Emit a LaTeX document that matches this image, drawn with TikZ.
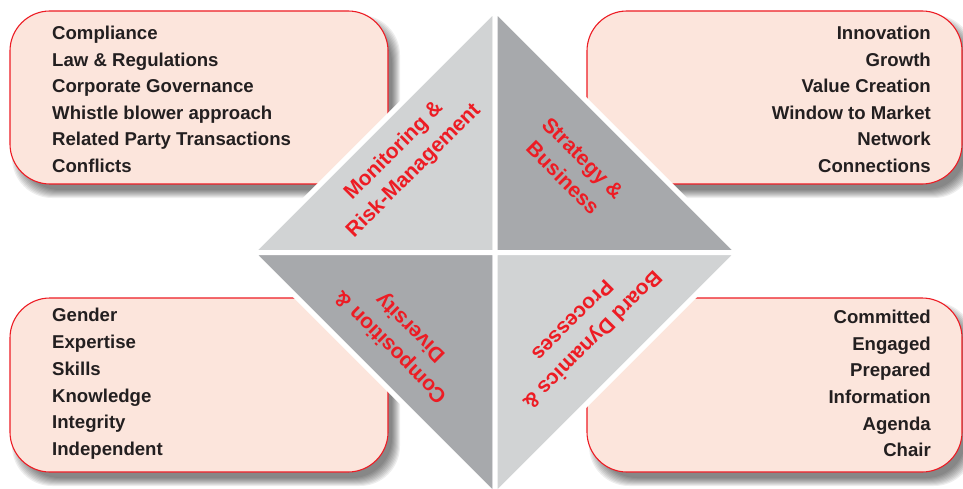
\documentclass[tikz,border=0pt]{standalone}
\usepackage{fontspec}
\setmainfont{Liberation Sans}
\definecolor{boxfill}{HTML}{FCE5DC}
\definecolor{boxred}{HTML}{ED1C24}
\definecolor{trilight}{HTML}{D1D3D4}
\definecolor{tridark}{HTML}{A7A9AC}
\definecolor{txt}{HTML}{231F20}
\tikzset{
  panel/.style={fill=boxfill, draw=boxred, line width=1.1pt, rounded corners=40pt},
  shadowlayer/.style={fill=black, opacity=0.065, rounded corners=40pt},
  item/.style={font=\bfseries\fontsize{18.6}{22}\selectfont, text=txt, inner sep=0pt},
  tritext/.style={font=\bfseries\fontsize{21}{28}\selectfont, text=boxred, align=center, inner sep=0pt},
  tri/.style={draw=white, line width=5pt, line join=round},
}
\newcommand\panelshadow[4]{%
  \foreach \k in {0,...,8}{%
    \fill[shadowlayer] ({#1+7-5+\k},{#2+9-5+\k}) rectangle ({#3+7+5-\k},{#4+9+5-\k});
  }%
}
\begin{document}
\begin{tikzpicture}[x=1pt,y=-1pt]
\useasboundingbox (0,0) rectangle (963,489);
\fill[white] (0,0) rectangle (963,489);
% shadows
\panelshadow{10}{11}{388}{184}
\panelshadow{587}{11}{962}{184}
\panelshadow{10}{298}{388}{472}
\panelshadow{587}{298}{962}{472}
% panels
\draw[panel] (10,11) rectangle (388,184);
\draw[panel] (587,11) rectangle (962,184);
\draw[panel] (10,298) rectangle (388,472);
\draw[panel] (587,298) rectangle (962,472);
% triangles
\coordinate (c) at (495,252.5);
\filldraw[tri, fill=trilight] (c) -- ++(-243,0) -- ++(243,-243) -- cycle;
\filldraw[tri, fill=tridark] (c) -- ++(243,0) -- ++(-243,-243) -- cycle;
\filldraw[tri, fill=tridark] (c) -- ++(-243,0) -- ++(243,243) -- cycle;
\filldraw[tri, fill=trilight] (c) -- ++(243,0) -- ++(-243,243) -- cycle;
% triangle labels
\node[tritext, rotate=45] (mon) at (404,161) {Monitoring \&\\Risk-Management};
\node[tritext, rotate=-45] (str) at (573,168) {Strategy \&\\Business};
\node[tritext, rotate=135] (comp) at (401,337) {Composition \&\\Diversity};
\node[tritext, rotate=-135] (board) at (583,331) {Board Dynamics \&\\Processes};
% lists
\foreach \t [count=\i from 0] in {Compliance, Law \& Regulations, Corporate Governance, Whistle blower approach, Related Party Transactions, Conflicts}
  \node[item, anchor=base west] (tl\i) at (52,{40+26.5*\i}) {\t};
\foreach \t [count=\i from 0] in {Innovation, Growth, Value Creation, Window to Market, Network, Connections}
  \node[item, anchor=base east] (tr\i) at (931,{40+26.5*\i}) {\t};
\foreach \t [count=\i from 0] in {Gender, Expertise, Skills, Knowledge, Integrity, Independent}
  \node[item, anchor=base west] (bl\i) at (52,{321.7+26.8*\i}) {\t};
\foreach \t [count=\i from 0] in {Committed, Engaged, Prepared, Information, Agenda, Chair}
  \node[item, anchor=base east] (br\i) at (931,{323.3+26.7*\i}) {\t};
\end{tikzpicture}
\end{document}
